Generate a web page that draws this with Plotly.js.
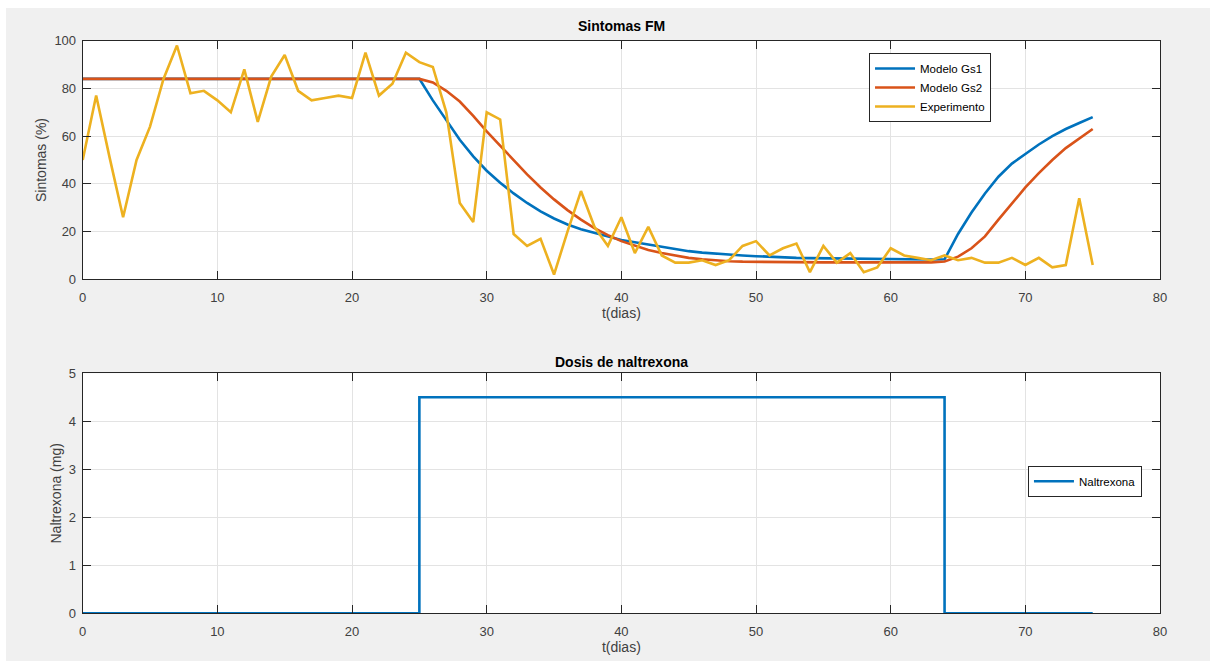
<!DOCTYPE html>
<html>
<head>
<meta charset="utf-8">
<script src="https://cdn.plot.ly/plotly-3.0.1.min.js"></script>
<style>
html, body { margin: 0; padding: 0; background: #ffffff; }
#chart { position: absolute; left: 6px; top: 8px; width: 1204px; height: 653px; }
</style>
</head>
<body>
<div id="chart"></div>
<script>
// ---- data ----
const days = [0,1,2,3,4,5,6,7,8,9,10,11,12,13,14,15,16,17,18,19,20,21,22,23,24,25,26,27,28,29,30,31,32,33,34,35,36,37,38,39,40,41,42,43,44,45,46,47,48,49,50,51,52,53,54,55,56,57,58,59,60,61,62,63,64,65,66,67,68,69,70,71,72,73,74,75];

const modeloGs1 = [84,84,84,84,84,84,84,84,84,84,84,84,84,84,84,84,84,84,84,84,84,84,84,84,84,
  84,75,67,58.5,51.5,45.5,40.5,36,32,28.5,
  25.5,23,21,19.5,18,16.5,15.5,14.5,13.5,12.5,
  11.8,11.2,10.7,10.3,10,9.7,9.4,9.2,9,8.9,
  8.8,8.7,8.6,8.5,8.5,8.4,8.4,8.4,8.3,8.4,
  19,28,36,43,48.5,52.5,56.5,60,63,65.5,68];

const modeloGs2 = [84,84,84,84,84,84,84,84,84,84,84,84,84,84,84,84,84,84,84,84,84,84,84,84,84,
  84,82.5,79,74.5,68.5,62,56,50,44,38.5,
  33.5,29,25,21.5,18.5,16,14,12.3,11,9.9,
  9,8.4,7.9,7.6,7.4,7.3,7.2,7.1,7.1,7.1,
  7.1,7.1,7.1,7.1,7.1,7.1,7.1,7.1,7.1,7.5,
  9.5,13,18,25,32,38.5,44.5,50,55,59,63];

const experimento = [50,77,51,26,50,64,84,98,78,79,
  75,70,88,66,85,94,79,75,76,77,
  76,95,77,82,95,91,89,70,32,24,
  70,67,19,14,17,2,20,37,22,14,
  26,11,22,10,7,7,8,6,8,14,
  16,10,13,15,3,14,7,11,3,5,
  13,10,9,8,10,8,9,7,7,9,
  6,9,5,6,34,6];

const naltrexona = [0,0,0,0,0,0,0,0,0,0,0,0,0,0,0,0,0,0,0,0,0,0,0,0,0,
  4.5,4.5,4.5,4.5,4.5,4.5,4.5,4.5,4.5,4.5,4.5,4.5,4.5,4.5,4.5,4.5,4.5,4.5,4.5,4.5,
  4.5,4.5,4.5,4.5,4.5,4.5,4.5,4.5,4.5,4.5,4.5,4.5,4.5,4.5,4.5,4.5,4.5,4.5,4.5,
  0,0,0,0,0,0,0,0,0,0,0,0];

const xTicks = [0,10,20,30,40,50,60,70,80];
const yTicksTop = [0,20,40,60,80,100];
const yTicksBottom = [0,1,2,3,4,5];

// ---- styling ----
const FONT = 'Liberation Sans, Arial, Helvetica, sans-serif';
const AX = '#262626';
const GRID = '#e3e3e3';
const C1 = '#0072BD', C2 = '#D95319', C3 = '#EDB120';

function xAxis(anchor) {
  return {
    anchor: anchor, domain: [0.0637, 0.9585], range: [0, 80],
    tickvals: xTicks, ticktext: xTicks.map(String),
    showgrid: true, gridcolor: GRID, gridwidth: 1, zeroline: false,
    showline: true, linecolor: AX, linewidth: 1, mirror: 'ticks',
    ticks: 'inside', ticklen: 8, tickcolor: AX, tickwidth: 1,
    tickfont: { family: FONT, size: 13, color: '#404040' },
    ticklabelstandoff: 6,
    title: { text: 't(dias)', font: { family: FONT, size: 14, color: '#404040' }, standoff: 4 },
    automargin: false, fixedrange: true
  };
}
function yAxis(anchor, domain, range, ticks, title, standoff) {
  return {
    anchor: anchor, domain: domain, range: range,
    tickvals: ticks, ticktext: ticks.map(String),
    showgrid: true, gridcolor: GRID, gridwidth: 1, zeroline: false,
    showline: true, linecolor: AX, linewidth: 1, mirror: 'ticks',
    ticks: 'inside', ticklen: 8, tickcolor: AX, tickwidth: 1,
    tickfont: { family: FONT, size: 13, color: '#404040' },
    ticklabelstandoff: 3,
    title: { text: title, font: { family: FONT, size: 14, color: '#404040' }, standoff: standoff },
    automargin: false, fixedrange: true
  };
}

const traces = [
  { x: days, y: modeloGs1, name: 'Modelo Gs1', type: 'scatter', mode: 'lines',
    line: { color: C1, width: 2.6 }, xaxis: 'x', yaxis: 'y', legend: 'legend' },
  { x: days, y: modeloGs2, name: 'Modelo Gs2', type: 'scatter', mode: 'lines',
    line: { color: C2, width: 2.6 }, xaxis: 'x', yaxis: 'y', legend: 'legend' },
  { x: days, y: experimento, name: 'Experimento', type: 'scatter', mode: 'lines',
    line: { color: C3, width: 2.6 }, xaxis: 'x', yaxis: 'y', legend: 'legend' },
  { x: days, y: naltrexona, name: 'Naltrexona', type: 'scatter', mode: 'lines',
    line: { color: C1, width: 2.6, shape: 'hv' }, xaxis: 'x2', yaxis: 'y2', legend: 'legend2' }
];

const legendStyle = {
  bgcolor: '#ffffff', bordercolor: AX, borderwidth: 1,
  font: { family: FONT, size: 11.5, color: '#000000' },
  itemwidth: 40, tracegroupgap: 0
};

const layout = {
  width: 1204, height: 653,
  margin: { l: 0, r: 0, t: 0, b: 0 },
  paper_bgcolor: '#f0f0f0', plot_bgcolor: '#ffffff',
  showlegend: true,
  xaxis: xAxis('y'),
  yaxis: yAxis('x', [0.5845, 0.9499], [0, 100], yTicksTop, 'Sintomas (%)', 4),
  xaxis2: xAxis('y2'),
  yaxis2: yAxis('x2', [0.0730, 0.4406], [0, 5], yTicksBottom, 'Naltrexona (mg)', 3),
  legend: Object.assign({ x: 0.7168, y: 0.9311, xanchor: 'left', yanchor: 'top' }, legendStyle),
  legend2: Object.assign({ x: 0.8488, y: 0.2990, xanchor: 'left', yanchor: 'top' }, legendStyle),
  annotations: [
    { text: '<b>Sintomas FM</b>', xref: 'paper', yref: 'paper', x: 0.5111, y: 0.9724,
      xanchor: 'center', yanchor: 'middle', showarrow: false,
      font: { family: FONT, size: 14, color: '#000000' } },
    { text: '<b>Dosis de naltrexona</b>', xref: 'paper', yref: 'paper', x: 0.5111, y: 0.4583,
      xanchor: 'center', yanchor: 'middle', showarrow: false,
      font: { family: FONT, size: 14, color: '#000000' } }
  ]
};

Plotly.newPlot('chart', traces, layout, { displayModeBar: false, staticPlot: true });
</script>
</body>
</html>
